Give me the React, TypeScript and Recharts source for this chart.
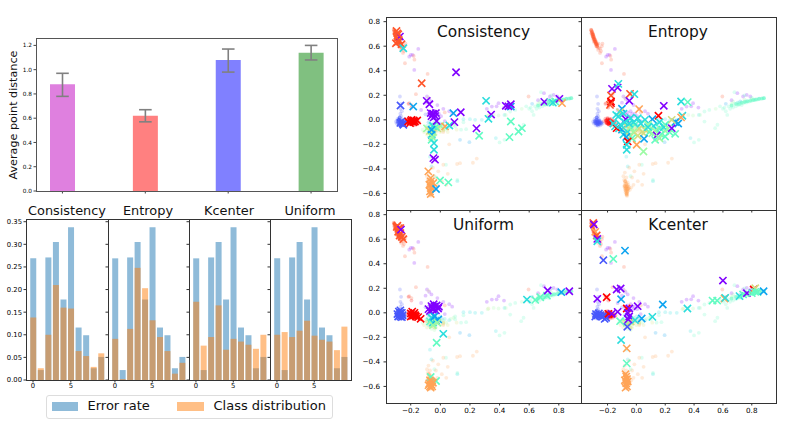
import React from 'react';
import { BarChart, Bar, ScatterChart, Scatter, XAxis, YAxis, ErrorBar, Cell } from 'recharts';

const FONT = '"DejaVu Sans", sans-serif';

// ---------- Top bar chart ----------
const methodPositions = [0, 1, 2, 3];
const methodDistances = [0.88, 0.62, 1.08, 1.14];
const methodErrors: [number, number][] = [[0.1, 0.09], [0.05, 0.05], [0.1, 0.09], [0.06, 0.06]];
const methodColors = ['#df80df', '#ff8080', '#8080ff', '#80c080'];
const distanceTicks = [0, 0.2, 0.4, 0.6, 0.8, 1.0, 1.2];

// ---------- Histograms ----------
const classIds = [0, 1, 2, 3, 4, 5, 6, 7, 8, 9];
const errorRate = [0.269, 0.022, 0.271, 0.305, 0.178, 0.338, 0.116, 0.099, 0.026, 0.051];
const classConsistency = [0.138, 0.026, 0.1, 0.21, 0.16, 0.158, 0.064, 0.053, 0.029, 0.059];
const classEntropy = [0.091, 0.002, 0.113, 0.248, 0.203, 0.132, 0.095, 0.064, 0.014, 0.038];
const classKcenter = [0.173, 0.076, 0.095, 0.165, 0.067, 0.091, 0.085, 0.078, 0.069, 0.1];
const classUniform = [0.1, 0.106, 0.095, 0.109, 0.131, 0.098, 0.089, 0.085, 0.066, 0.118];
const histYTicks = [0, 0.05, 0.1, 0.15, 0.2, 0.25, 0.3, 0.35];

// ---------- Scatter colours (rainbow, 10 classes) ----------
const rainbow = ['#8000ff', '#4757fb', '#0ea4f0', '#2bdddd', '#63fbc3', '#9cfba4', '#d4dd80', '#ffa457', '#ff572c', '#ff0000'];

// ---------- Faint background points, by class ----------
type P = [number, number];
const dots0: P[] = [[-0.149, 0.578], [-0.187, 0.529], [-0.21, 0.515], [-0.2, 0.53], [-0.176, 0.407], [-0.09, 0.19], [-0.075, 0.17], [-0.06, 0.15], [-0.1, 0.14], [-0.02, 0.12], [0.02, 0.09], [0.06, 0.07], [0.08, 0.05], [-0.04, 0.07], [-0.06, 0.06], [-0.03, 0.05], [-0.07, 0.04], [-0.05, 0.03], [-0.02, 0.03], [-0.08, 0.05], [-0.04, 0.02], [-0.01, 0.05], [0.348, 0.108], [0.393, 0.136], [0.314, 0.09], [0.43, 0.1], [0.38, 0.11], [0.66, 0.16], [0.7, 0.217], [0.765, 0.203], [0.74, 0.19], [0.79, 0.19], [-0.13, 0.08], [0.005, 0.03], [0.03, -0.01]];
const dots1: P[] = [[-0.273, 0.19], [-0.265, 0.13], [-0.27, 0.09], [-0.26, 0.07], [-0.27, 0.05], [-0.265, 0.03], [-0.275, 0.02], [-0.29, 0.005], [-0.28, 0], [-0.27, -0.005], [-0.26, 0.005], [-0.25, -0.01], [-0.3, -0.015], [-0.285, -0.02], [-0.275, -0.015], [-0.265, -0.02], [-0.255, -0.025], [-0.24, -0.02], [-0.295, -0.03], [-0.28, -0.03], [-0.27, -0.035], [-0.26, -0.035], [-0.245, -0.035], [-0.235, -0.03], [-0.28, -0.045], [-0.265, -0.05], [-0.25, -0.045], [-0.29, -0.01], [-0.27, -0.025], [-0.255, -0.015], [-0.1, 0.045], [-0.06, -0.04]];
const dots9: P[] = [[-0.215, 0.13], [-0.195, 0.1], [-0.225, -0.01], [-0.215, 0.01], [-0.21, -0.025], [-0.205, -0.005], [-0.2, 0.015], [-0.2, -0.03], [-0.195, -0.015], [-0.19, 0], [-0.19, -0.04], [-0.185, 0.01], [-0.185, -0.025], [-0.18, -0.01], [-0.18, -0.045], [-0.175, 0.005], [-0.175, -0.03], [-0.17, -0.015], [-0.165, -0.005], [-0.165, -0.04], [-0.16, -0.025], [-0.155, -0.01], [-0.15, -0.03], [-0.145, -0.02], [-0.21, -0.015], [-0.195, -0.03], [-0.18, -0.02], [-0.17, -0.03]];
const dots8: P[] = [[-0.315, 0.735], [-0.31, 0.72], [-0.312, 0.705], [-0.305, 0.71], [-0.3, 0.7], [-0.305, 0.69], [-0.298, 0.685], [-0.302, 0.675], [-0.295, 0.67], [-0.29, 0.66], [-0.298, 0.655], [-0.285, 0.65], [-0.29, 0.645], [-0.28, 0.64], [-0.295, 0.635], [-0.285, 0.63], [-0.275, 0.625], [-0.282, 0.615], [-0.27, 0.61], [-0.278, 0.6], [-0.262, 0.62], [-0.27, 0.59], [-0.26, 0.585], [-0.265, 0.57], [-0.25, 0.58], [-0.24, 0.6], [-0.245, 0.56], [-0.252, 0.545], [-0.235, 0.62], [-0.239, 0.461], [-0.18, 0.52], [-0.175, 0.49], [-0.086, 0.374], [-0.165, 0.209], [-0.21, 0.136], [-0.195, 0.12], [0.596, 0.19], [0.03, 0.06]];
const dots7: P[] = [[0.02, -0.366], [0.133, -0.353], [0.246, -0.316], [0.22, -0.35], [0.113, -0.36], [-0.014, -0.42], [-0.05, -0.39], [-0.08, -0.43], [0.05, -0.44], [-0.03, -0.47], [0.01, -0.5], [0.04, -0.53], [-0.02, -0.53], [-0.09, -0.46], [-0.085, -0.49], [-0.075, -0.5], [-0.08, -0.52], [-0.07, -0.47], [-0.06, -0.51], [-0.085, -0.54], [-0.075, -0.53], [-0.065, -0.54], [-0.055, -0.53], [-0.08, -0.55], [-0.07, -0.55], [-0.06, -0.56], [-0.05, -0.55], [-0.08, -0.57], [-0.07, -0.57], [-0.06, -0.575], [-0.075, -0.59], [-0.065, -0.595], [-0.07, -0.61], [-0.065, -0.62], [-0.045, -0.57], [-0.035, -0.55], [0.06, -0.2], [0.02, -0.1]];
const dots2: P[] = [[-0.08, -0.02], [-0.05, -0.04], [-0.03, -0.06], [0.01, -0.05], [-0.06, -0.09], [0.133, -0.163], [0.196, -0.182], [0.62, 0.13], [0.72, 0.15]];
const dots3: P[] = [[-0.09, -0.05], [-0.07, -0.03], [-0.04, -0.02], [-0.02, -0.04], [0, -0.03], [0.03, -0.05], [-0.06, -0.07], [-0.03, -0.08], [-0.08, -0.1], [0.06, -0.06], [-0.07, -0.3], [-0.06, -0.38], [0.28, 0.0], [0.235, 0.0], [0.2, 0.005], [0.156, 0.005], [0.433, 0.04], [0.375, -0.149], [0.115, -0.5], [0.7, 0.14], [0.76, 0.15], [0.82, 0.165], [0.85, 0.172], [0.88, 0.175]];
const dots4: P[] = [[0.038, -0.366], [0.115, -0.49], [-0.04, -0.46], [0.4, -0.184], [0.433, -0.163], [0.156, -0.02], [0.1, -0.054], [0.1, -0.03], [0.174, -0.076], [0.14, -0.08], [0.472, 0.068], [0.506, 0.081], [0.472, -0.014], [0.562, -0.04], [0.546, -0.068], [0.58, 0.11], [0.6, 0.09], [0.61, 0.1], [0.62, 0.07], [0.63, 0.04], [0.64, 0.11], [0.65, 0.09], [0.66, 0.12], [0.67, 0.1], [0.68, 0.13], [0.69, 0.11], [0.7, 0.125], [0.71, 0.14], [0.72, 0.13], [0.73, 0.145], [0.74, 0.135], [0.75, 0.15], [0.76, 0.14], [0.77, 0.155], [0.78, 0.148], [0.79, 0.16], [0.8, 0.155], [0.81, 0.165], [0.82, 0.16], [0.83, 0.168], [0.84, 0.165], [0.855, 0.172], [0.87, 0.175], [0.885, 0.178], [0.68, 0.225], [0.75, 0.2], [0.8, 0.18], [0.73, 0.12]];
const dots5: P[] = [[-0.12, -0.08], [-0.1, -0.06], [-0.09, -0.09], [-0.07, -0.06], [-0.05, -0.1], [-0.03, -0.05], [-0.02, -0.09], [0, -0.07], [0.02, -0.06], [0.04, -0.08], [0.07, -0.05], [0.09, -0.04], [-0.06, -0.13], [-0.04, -0.14], [0.36, 0.04], [0.32, 0.03], [0.393, 0.035], [0.442, 0.04], [0.67, 0.15], [0.75, 0.165], [0.66, 0.13], [0.8, 0.17], [0.55, 0.09]];
const dots6: P[] = [[-0.11, -0.1], [-0.09, -0.12], [-0.07, -0.11], [-0.05, -0.07], [-0.03, -0.12], [0, -0.1], [0.02, -0.09], [-0.04, -0.04], [-0.08, 0.18], [0.325, 0.035], [0.05, -0.1], [0.11, -0.08]];
const backgroundDots: { cls: number; pts: P[] }[] = [
  { cls: 0, pts: dots0 }, { cls: 1, pts: dots1 }, { cls: 2, pts: dots2 }, { cls: 3, pts: dots3 }, { cls: 4, pts: dots4 },
  { cls: 5, pts: dots5 }, { cls: 6, pts: dots6 }, { cls: 7, pts: dots7 }, { cls: 8, pts: dots8 }, { cls: 9, pts: dots9 },
];

// ---------- Saturated cores of the clusters, by class ----------
const coreUpper: P[] = [[-0.312, 0.73], [-0.308, 0.715], [-0.306, 0.7], [-0.3, 0.695], [-0.302, 0.68], [-0.295, 0.675], [-0.296, 0.66], [-0.29, 0.655], [-0.288, 0.64], [-0.283, 0.635], [-0.28, 0.62], [-0.275, 0.615], [-0.272, 0.6]];
const coreLower: P[] = [[-0.078, -0.5], [-0.07, -0.52], [-0.08, -0.54], [-0.07, -0.545], [-0.06, -0.54], [-0.075, -0.56], [-0.065, -0.565], [-0.055, -0.56], [-0.072, -0.58], [-0.062, -0.585], [-0.068, -0.6], [-0.066, -0.61]];
const coreBlue: P[] = [[-0.285, -0.01], [-0.275, 0], [-0.27, -0.015], [-0.26, -0.005], [-0.285, -0.025], [-0.275, -0.03], [-0.265, -0.025], [-0.255, -0.02], [-0.245, -0.025], [-0.27, -0.04], [-0.258, -0.035], [-0.275, 0.02]];
const coreRed: P[] = [[-0.21, -0.005], [-0.2, 0.005], [-0.195, -0.01], [-0.185, 0], [-0.175, -0.01], [-0.205, -0.025], [-0.19, -0.025], [-0.18, -0.03], [-0.17, -0.025], [-0.16, -0.02], [-0.195, -0.035]];
const coreRight: P[] = [[0.66, 0.115], [0.69, 0.13], [0.71, 0.125], [0.73, 0.14], [0.75, 0.145], [0.77, 0.15], [0.79, 0.155], [0.81, 0.16], [0.83, 0.165], [0.85, 0.17], [0.87, 0.173], [0.885, 0.176]];
const coreCenter: P[] = [[-0.09, -0.07], [-0.07, -0.09], [-0.05, -0.07], [-0.03, -0.09], [-0.01, -0.07], [0.02, -0.08], [-0.06, -0.11], [-0.04, -0.12]];
const clusterCores: { cls: number; pts: P[] }[] = [
  { cls: 8, pts: coreUpper }, { cls: 7, pts: coreLower }, { cls: 1, pts: coreBlue }, { cls: 9, pts: coreRed }, { cls: 4, pts: coreRight }, { cls: 6, pts: coreCenter },
];

// ---------- Selected samples (crosses): [x, y, class] ----------
type Pick = [number, number, number];
const picksConsistency: Pick[] = [
  [-0.296, 0.724, 8], [-0.284, 0.697, 8], [-0.291, 0.664, 8], [-0.278, 0.637, 8], [-0.3, 0.624, 8], [-0.262, 0.616, 8], [-0.273, 0.678, 0], [-0.29, 0.705, 8], [-0.28, 0.65, 8], [-0.29, 0.635, 8],
  [-0.25, 0.583, 3], [-0.126, 0.298, 8],
  [-0.269, 0.117, 1], [-0.183, 0.108, 2], [-0.262, -0.014, 1], [-0.255, -0.03, 1], [-0.25, -0.04, 1], [-0.27, -0.025, 1],
  [-0.217, -0.014, 9], [-0.194, 0, 9], [-0.172, -0.014, 9], [-0.205, -0.027, 9], [-0.183, -0.019, 9], [-0.156, -0.005, 9], [-0.2, -0.01, 9], [-0.18, -0.005, 9],
  [-0.09, -0.07, 5], [-0.07, -0.09, 6], [-0.05, -0.1, 5], [-0.02, -0.07, 6], [0.0, -0.05, 5], [-0.05, -0.05, 3], [-0.03, -0.06, 4],
  [0.032, -0.054, 7], [0.061, -0.046, 3], [-0.059, -0.081, 2], [-0.059, -0.122, 2], [-0.059, -0.163, 4], [-0.055, -0.14, 5], [-0.043, -0.19, 3], [-0.043, -0.244, 3],
  [0.088, 0.054, 2], [-0.047, 0.046, 0], [-0.06, 0.03, 0], [-0.035, 0.03, 0], [-0.05, 0.05, 0], [-0.03, 0.055, 0], [-0.065, 0.055, 0], [-0.045, 0.02, 0], [-0.025, -0.01, 0],
  [0.106, 0.388, 0], [-0.092, 0.155, 0], [-0.074, 0.127, 0], [0.138, 0.062, 0], [0.095, -0.019, 0], [0.244, -0.07, 0], [0.343, 0.043, 0], [0.325, 0.008, 3], [0.309, 0.155, 3], [0.262, -0.13, 4],
  [0.476, 0.108, 2], [0.442, 0.114, 0], [0.476, 0.127, 0], [0.46, 0.11, 0], [0.476, -0.014, 4], [0.467, -0.141, 4], [0.528, -0.095, 4], [0.551, -0.068, 4],
  [0.702, 0.146, 0], [0.743, 0.144, 4], [0.776, 0.149, 4], [0.76, 0.14, 3], [0.804, 0.171, 0], [0.822, 0.136, 7],
  [-0.036, -0.325, 0], [-0.047, -0.312, 0], [-0.081, -0.42, 7], [-0.065, -0.475, 7], [-0.065, -0.502, 7], [-0.074, -0.529, 7], [-0.059, -0.556, 7], [-0.065, -0.605, 7], [-0.07, -0.583, 7], [-0.047, -0.515, 7],
  [-0.002, -0.494, 4], [0.054, -0.51, 4], [-0.029, -0.564, 2],
];
const picksEntropy: Pick[] = [
  [-0.169, 0.252, 0], [-0.13, 0.263, 0], [-0.125, 0.293, 3], [-0.176, 0.198, 8], [-0.044, 0.212, 8], [-0.014, 0.209, 3], [-0.049, 0.155, 0],
  [-0.176, 0.136, 9], [-0.176, 0.15, 9], [-0.183, 0.122, 8], [0.19, 0.114, 0], [-0.1, 0.09, 2],
  [0.019, 0.087, 7], [-0.113, 0.062, 6], [-0.09, 0.05, 3], [-0.14, 0.04, 3], [0.31, 0.149, 3], [0.356, 0.144, 4], [0.319, 0.033, 3], [0.31, 0.02, 7], [0.153, 0.033, 9], [0.111, 0.005, 2], [0.269, -0.019, 2], [0.245, 0, 6], [0.29, -0.03, 2],
  [-0.125, 0.027, 3], [-0.148, -0.054, 3], [-0.12, -0.07, 3], [-0.137, -0.068, 9], [-0.074, 0.005, 0], [-0.04, 0.015, 3], [0.01, 0.013, 3], [0.06, 0, 3], [0.12, -0.05, 3], [0.2, -0.04, 4], [0.16, -0.02, 3], [-0.16, -0.03, 3],
  [-0.1, -0.08, 2], [-0.07, -0.05, 6], [-0.04, -0.06, 5], [-0.01, -0.04, 4], [0.02, -0.07, 6], [0.06, -0.081, 6], [0.05, -0.11, 6], [-0.06, -0.1, 3], [-0.044, -0.136, 6], [-0.02, -0.1, 5], [0.09, -0.1, 4], [0.14, -0.08, 3], [0.165, -0.07, 4], [0.2, -0.09, 5], [0.17, -0.12, 4],
  [-0.11, -0.04, 3], [-0.08, -0.02, 3], [-0.05, -0.03, 3], [-0.02, -0.02, 3], [0.03, -0.03, 3], [0.08, -0.04, 5], [-0.09, -0.12, 3], [-0.03, -0.15, 4], [0.01, -0.13, 6], [0.08, -0.06, 3], [0.11, -0.11, 5], [0.13, -0.09, 5], [0.19, -0.06, 3], [0.23, -0.1, 4], [0.22, -0.07, 5], [-0.07, -0.14, 2],
  [0.141, -0.127, 0], [0.245, -0.068, 0], [0.13, -0.163, 4], [0.199, -0.136, 4], [0.16, -0.15, 5], [0.269, -0.114, 4], [0.002, -0.203, 7], [0.053, -0.155, 2], [0.049, -0.258, 5], [-0.06, -0.176, 9], [-0.067, -0.203, 3], [-0.067, -0.244, 3],
];
const picksUniform: Pick[] = [
  [-0.29, 0.71, 8], [-0.28, 0.69, 8], [-0.285, 0.66, 8], [-0.27, 0.65, 8], [-0.275, 0.63, 8], [-0.26, 0.62, 8], [-0.25, 0.6, 8], [-0.295, 0.7, 8], [-0.27, 0.69, 8], [-0.266, 0.678, 0],
  [-0.29, -0.01, 1], [-0.28, 0.01, 1], [-0.27, 0.02, 1], [-0.26, 0.0, 1], [-0.285, -0.03, 1], [-0.27, -0.03, 1], [-0.255, -0.02, 1], [-0.275, -0.01, 1], [-0.26, -0.035, 1], [-0.27, 0.0, 1],
  [-0.2, -0.005, 9], [-0.19, 0.01, 9], [-0.18, -0.01, 9], [-0.2, -0.03, 9], [-0.185, -0.025, 9], [-0.17, -0.02, 9], [-0.175, 0.0, 9], [-0.165, -0.03, 9], [-0.133, -0.049, 9], [-0.15, -0.035, 9],
  [-0.08, 0.03, 0], [-0.06, 0.055, 0], [-0.04, 0.05, 0], [-0.015, 0.035, 0], [-0.07, 0.015, 0], [-0.05, 0.025, 0], [-0.03, 0.02, 0], [-0.01, 0.05, 0], [-0.045, 0.07, 0], [-0.025, 0.06, 0], [-0.055, 0.04, 0],
  [-0.06, -0.04, 3], [-0.07, -0.07, 4], [-0.05, -0.08, 3], [-0.04, -0.03, 2], [-0.03, -0.065, 2], [-0.014, -0.054, 2], [-0.02, -0.08, 5], [-0.05, -0.1, 5],
  [0.02, -0.171, 3], [-0.025, -0.244, 4],
  [-0.065, -0.523, 4], [-0.029, -0.556, 4], [-0.07, -0.55, 7], [-0.06, -0.56, 7], [-0.075, -0.575, 7], [-0.06, -0.585, 7], [-0.05, -0.57, 7], [-0.07, -0.6, 7], [-0.065, -0.61, 7], [-0.055, -0.6, 7], [-0.08, -0.59, 7],
  [0.585, 0.108, 3], [0.641, 0.105, 4], [0.675, 0.127, 4], [0.72, 0.14, 4], [0.725, 0.182, 0], [0.817, 0.168, 2], [0.871, 0.176, 0],
];
const picksKcenter: Pick[] = [
  [-0.299, 0.732, 8], [-0.295, 0.72, 0], [-0.285, 0.66, 7], [-0.275, 0.63, 8], [-0.271, 0.602, 0], [-0.271, 0.583, 3], [-0.229, 0.429, 1], [-0.16, 0.439, 4], [-0.079, 0.507, 2],
  [-0.137, 0.19, 0], [-0.109, 0.198, 0], [-0.271, 0.114, 0], [-0.206, 0.127, 9], [-0.106, 0.111, 2], [0.183, 0.068, 2], [0.6, 0.263, 0],
  [-0.28, -0.01, 1], [-0.27, -0.02, 1], [-0.26, -0.005, 1], [-0.285, -0.03, 1], [-0.25, -0.02, 1], [-0.235, -0.03, 1], [-0.22, -0.02, 1], [-0.22, -0.05, 1], [-0.21, -0.04, 1],
  [-0.194, -0.008, 9], [-0.171, -0.008, 0], [-0.13, 0.008, 0], [-0.067, 0.035, 9], [-0.049, 0.035, 0], [0.009, 0.054, 0], [-0.06, 0, 0], [-0.05, -0.03, 0],
  [-0.113, -0.068, 4], [-0.067, -0.08, 5], [-0.04, -0.07, 6], [-0.01, -0.06, 3], [0.037, -0.046, 2], [0.111, -0.033, 3], [-0.056, -0.054, 0], [-0.063, -0.114, 1],
  [0.354, 0.035, 3], [-0.106, -0.222, 3], [-0.067, -0.29, 7], [-0.067, -0.412, 4],
  [-0.075, -0.5, 7], [-0.07, -0.52, 7], [-0.065, -0.54, 7], [-0.08, -0.55, 7], [-0.06, -0.56, 7], [-0.07, -0.575, 7], [-0.065, -0.6, 7], [-0.075, -0.61, 7],
  [0.528, 0.1, 4], [0.56, 0.1, 4], [0.611, 0.117, 7], [0.616, 0.122, 3], [0.715, 0.136, 3], [0.74, 0.15, 4], [0.766, 0.16, 0], [0.813, 0.19, 9], [0.824, 0.2, 6], [0.824, 0.171, 4], [0.8, 0.16, 4], [0.84, 0.17, 4], [0.882, 0.176, 2],
];

const scatterYTicks = [-0.6, -0.4, -0.2, 0, 0.2, 0.4, 0.6, 0.8];
const scatterXTicks = [-0.2, 0, 0.2, 0.4, 0.6, 0.8];
const Y_DOMAIN: [number, number] = [-0.735, 0.838];

const tickFmt = (d: number) => (v: number) => (v < 0 ? '\u2212' : '') + Math.abs(v).toFixed(d);
const blank = () => '';

const dotShape = (color: string, o: number) => (p: any) =>
  p.cx == null ? <g /> : <circle cx={p.cx} cy={p.cy} r={1.9} fill={color} fillOpacity={o} />;

const crossShape = (p: any) => {
  if (p.cx == null) return <g />;
  const r = 3.6;
  return (
    <path
      d={`M${p.cx - r},${p.cy - r}L${p.cx + r},${p.cy + r}M${p.cx - r},${p.cy + r}L${p.cx + r},${p.cy - r}`}
      stroke={rainbow[p.payload.c]}
      strokeWidth={1.6}
      fill="none"
    />
  );
};

function Frame({ l, t, w, h, c = '#333' }: { l: number; t: number; w: number; h: number; c?: string }) {
  const x0 = Math.round(l);
  const y0 = Math.round(t);
  return (
    <div style={{ position: 'absolute', boxSizing: 'border-box', left: x0, top: y0, width: Math.round(l + w) - x0 + 1, height: Math.round(t + h) - y0 + 1, border: `1px solid ${c}`, pointerEvents: 'none' }} />
  );
}

function ScatterPanel({ l, t, picks, xDomain, showX, showY }: { l: number; t: number; picks: Pick[]; xDomain: [number, number]; showX: boolean; showY: boolean }) {
  const W = 195;
  const H = 193;
  const axisStyle = { fontSize: 7.2, fill: '#000', fontFamily: FONT };
  const line = { stroke: '#333' };
  const data = picks.map(([x, y, c]) => ({ x, y, c }));
  return (
    <>
      <div style={{ position: 'absolute', left: l - 30, top: t, zIndex: 1 }}>
        <ScatterChart width={W + 30} height={H + 16} margin={{ top: 0, right: 0, bottom: 0, left: 0 }} style={{ overflow: 'hidden' }}>
          <XAxis type="number" dataKey="x" domain={xDomain} ticks={scatterXTicks} allowDataOverflow height={16} tick={axisStyle} tickFormatter={showX ? tickFmt(1) : blank} tickSize={2.5} tickMargin={2} tickLine={line} axisLine={false} interval={0} />
          <YAxis type="number" dataKey="y" domain={Y_DOMAIN} ticks={scatterYTicks} allowDataOverflow width={30} tick={axisStyle} tickFormatter={showY ? tickFmt(1) : blank} tickSize={2.5} tickMargin={3.5} tickLine={line} axisLine={false} interval={0} />
          {backgroundDots.map(({ cls, pts }) => (
            <Scatter key={cls} data={pts.map(([x, y]) => ({ x, y }))} isAnimationActive={false} shape={dotShape(rainbow[cls], 0.22)} />
          ))}
          {clusterCores.map(({ cls, pts }) => (
            <Scatter key={`core${cls}`} data={pts.map(([x, y]) => ({ x, y }))} isAnimationActive={false} shape={dotShape(rainbow[cls], 0.5)} />
          ))}
          <Scatter data={data} isAnimationActive={false} shape={crossShape} />
        </ScatterChart>
      </div>
      <Frame l={l} t={t} w={W} h={H} />
    </>
  );
}

function HistPanel({ l, w = 81, classValues, showY }: { l: number; w?: number; classValues: number[]; showY: boolean }) {
  const W = w;
  const H = 161;
  const T = 219;
  const axisStyle = { fontSize: 6.8, fill: '#000', fontFamily: FONT };
  const line = { stroke: '#333' };
  const data = classIds.map((i) => ({ i, err: errorRate[i], cls: classValues[i] }));
  return (
    <>
      <div style={{ position: 'absolute', left: l - 26, top: T }}>
        <BarChart width={W + 26} height={H + 14} data={data} margin={{ top: 0, right: 0, bottom: 0, left: 0 }} barSize={6} barGap={-6}>
          <XAxis type="number" dataKey="i" domain={[-0.93, 9.92]} ticks={[0, 5]} height={14} tick={axisStyle} tickSize={2.5} tickMargin={1} tickLine={line} axisLine={false} interval={0} allowDataOverflow />
          <YAxis type="number" domain={[0, 0.356]} ticks={histYTicks} width={26} tick={axisStyle} tickFormatter={showY ? tickFmt(2) : blank} tickSize={2.5} tickMargin={1.5} tickLine={line} axisLine={false} interval={0} allowDataOverflow />
          <Bar dataKey="err" fill="#1f77b4" fillOpacity={0.5} isAnimationActive={false} />
          <Bar dataKey="cls" fill="#ff7f0e" fillOpacity={0.5} isAnimationActive={false} />
        </BarChart>
      </div>
      <Frame l={l} t={T} w={W} h={H} />
    </>
  );
}

function TopBars() {
  const L = 36;
  const T = 38;
  const W = 301;
  const H = 153;
  const axisStyle = { fontSize: 5.8, fill: '#000', fontFamily: FONT };
  const line = { stroke: '#444' };
  const data = methodPositions.map((x, i) => ({ x, v: methodDistances[i], e: methodErrors[i] }));
  return (
    <>
      <div style={{ position: 'absolute', left: L - 26, top: T }}>
        <BarChart width={W + 26} height={H + 8} data={data} margin={{ top: 0, right: 0, bottom: 0, left: 0 }} barSize={25}>
          <XAxis type="number" dataKey="x" domain={[-0.319, 3.313]} ticks={methodPositions} height={8} tick={axisStyle} tickFormatter={blank} tickSize={2.5} tickLine={line} axisLine={false} interval={0} allowDataOverflow />
          <YAxis type="number" domain={[0, 1.261]} ticks={distanceTicks} width={26} tick={axisStyle} tickFormatter={tickFmt(1)} tickSize={2.5} tickMargin={1.5} tickLine={line} axisLine={false} interval={0} allowDataOverflow />
          <Bar dataKey="v" isAnimationActive={false}>
            {data.map((_, i) => (
              <Cell key={i} fill={methodColors[i]} />
            ))}
            <ErrorBar dataKey="e" width={6.3} stroke="#808080" strokeWidth={1.6} direction="y" isAnimationActive={false} />
          </Bar>
        </BarChart>
      </div>
      <Frame l={L} t={T} w={W} h={H} c="#555" />
    </>
  );
}

function Texts() {
  const t = (x: number, y: number, s: string, size: number) => (
    <text x={x} y={y} fontSize={size} textAnchor="middle" fill="#111" fontFamily={FONT}>{s}</text>
  );
  return (
    <svg width={789} height={423} style={{ position: 'absolute', left: 0, top: 0, pointerEvents: 'none', zIndex: 3 }}>
      <text transform="translate(17,115) rotate(-90)" fontSize={11.2} textAnchor="middle" fill="#111" fontFamily={FONT}>Average point distance</text>
      {t(67, 215, 'Consistency', 12.9)}
      {t(148, 215, 'Entropy', 12.9)}
      {t(229, 215, 'Kcenter', 12.9)}
      {t(310, 215, 'Uniform', 12.9)}
      {t(483.5, 36.5, 'Consistency', 15.4)}
      {t(678, 36.5, 'Entropy', 15.4)}
      {t(483.5, 230, 'Uniform', 15.4)}
      {t(678, 230, 'Kcenter', 15.4)}
    </svg>
  );
}

function LegendBox() {
  const item = (left: number, width: number, color: string) => (
    <div style={{ position: 'absolute', left, top: 5.5, width, height: 9.5, background: color }} />
  );
  const label = (left: number, s: string) => (
    <div style={{ position: 'absolute', left, top: 2, fontSize: 13, lineHeight: '16px', whiteSpace: 'nowrap', color: '#111', fontFamily: FONT }}>{s}</div>
  );
  return (
    <div style={{ position: 'absolute', left: 45.5, top: 395, width: 285, height: 21.5, border: '1px solid #ddd', borderRadius: 3, background: '#fff' }}>
      {item(5, 26, '#8fbbd9')}
      {label(41, 'Error rate')}
      {item(130, 27, '#ffbf86')}
      {label(167, 'Class distribution')}
    </div>
  );
}

export default function App() {
  const leftX: [number, number] = [-0.367, 0.95];
  const rightX: [number, number] = [-0.384, 0.968];
  return (
    <div style={{ position: 'absolute', left: 0, top: 0, width: 789, height: 423, background: '#fff', overflow: 'hidden', fontFamily: FONT }}>
      <TopBars />
      <HistPanel l={26} w={82} classValues={classConsistency} showY />
      <HistPanel l={108} classValues={classEntropy} showY={false} />
      <HistPanel l={189} classValues={classKcenter} showY={false} />
      <HistPanel l={270} classValues={classUniform} showY={false} />
      <LegendBox />
      <ScatterPanel l={386} t={17} picks={picksConsistency} xDomain={leftX} showX={false} showY />
      <ScatterPanel l={581} t={17} picks={picksEntropy} xDomain={rightX} showX={false} showY={false} />
      <ScatterPanel l={386} t={210} picks={picksUniform} xDomain={leftX} showX showY />
      <ScatterPanel l={581} t={210} picks={picksKcenter} xDomain={rightX} showX showY={false} />
      <Texts />
    </div>
  );
}
